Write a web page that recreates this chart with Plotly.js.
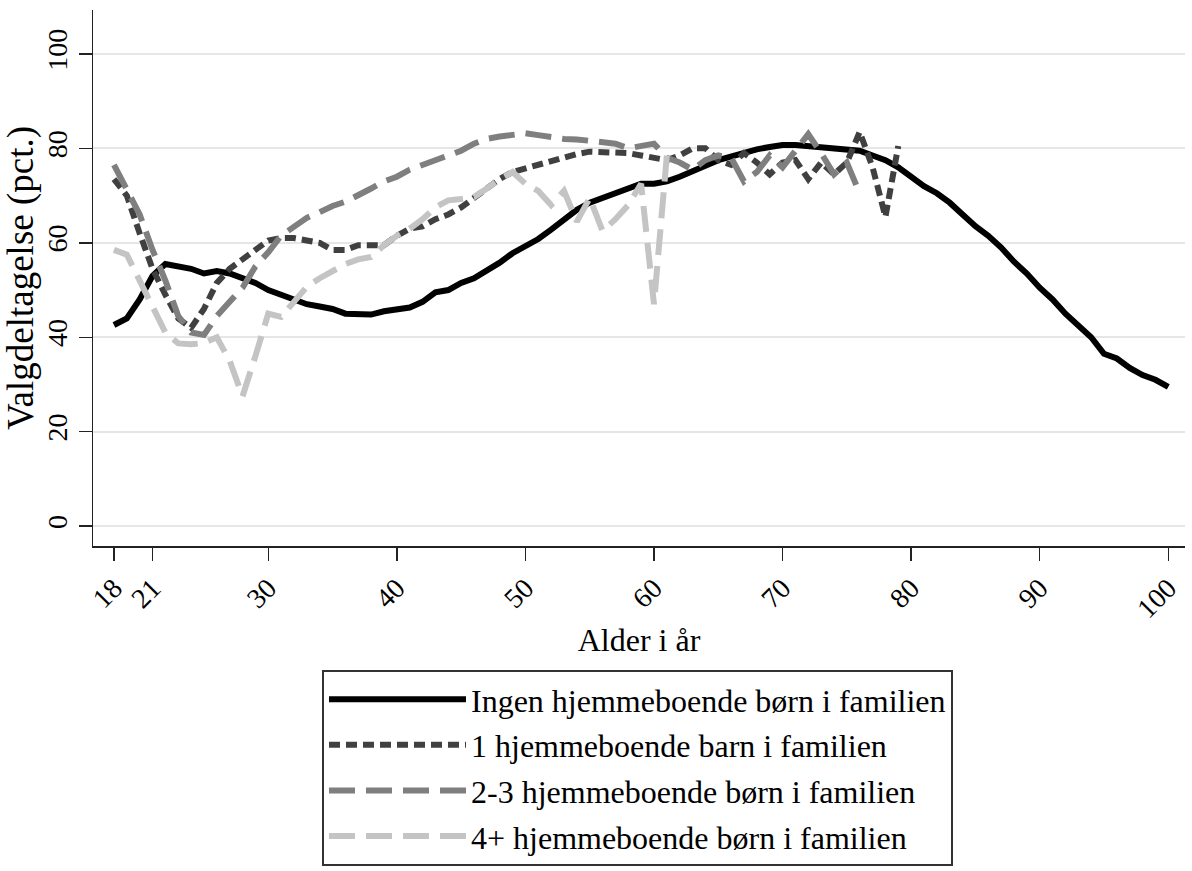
<!DOCTYPE html>
<html>
<head>
<meta charset="utf-8">
<script src="https://cdn.plot.ly/plotly-3.0.1.min.js"></script>
<style>html,body{margin:0;padding:0;background:#fff;}#chart{width:1192px;height:871px;}</style>
</head>
<body>
<div id="chart"></div>
<script>
// Age (years)
const agesAll = [];
for (let a = 18; a <= 100; a++) agesAll.push(a);

const names = [
  "Ingen hjemmeboende børn i familien",
  "1 hjemmeboende barn i familien",
  "2-3 hjemmeboende børn i familien",
  "4+ hjemmeboende børn i familien"
];

// Ingen: ages 18..100
const ingen = [42.6,44,48,53,55.5,55,54.5,53.5,54,53.5,52.5,51.5,50,49,48,47,46.5,46,45,44.8,44.8,45.5,45.8,46.3,47.5,49.5,50,51.5,52.5,54,55.8,57.8,59.2,60.8,62.8,65,67,68.5,69.5,70.5,71.5,72.5,72.5,73,74,75,76.3,77.5,78.3,79,79.8,80.3,80.7,80.7,80.5,80.3,80,79.8,79.5,78.5,77.5,76,74,72,70.5,68.5,66,63.5,61.5,59,56,53.5,50.5,48,45,42.5,40,36.5,35.5,33.5,32,31,29.5];

// 1 barn: ages 18..79
const barn1 = [73.5,70,62,54.5,49,44,42,46,51.5,54.5,56.5,58.5,60.5,61,61,60.5,60,58.5,58.5,59.5,59.5,59.5,61.5,63,63.5,65,66,67.5,69.5,71.5,73.5,75,75.8,76.5,77.3,78,78.8,79.3,79.3,79.3,79,78.5,78,77.5,78.5,80,80,77.5,76.5,79,77,74.5,77,77.5,73.5,77,74.5,77,83.5,76,65.5,80.5];

// 2-3 born: ages 18..76
const born23 = [76.5,71.5,66,58.5,52,44.5,41,40.5,44.5,47.5,50.5,55,58,61.5,63.5,65.3,66.5,67.8,68.7,70,71.5,73,74,75.5,76.5,77.5,78.5,79.5,81,82,82.5,82.8,83.2,82.8,82.3,82,81.9,81.7,81.3,81,80,80.5,81,78,77,75.5,77.5,78.5,78,73,75,78.5,76,79.5,83,79,74.5,77,70.5];

// 4+ born: ages 18..61
const born4 = [58.5,57.5,52,46.5,41,38.7,38.5,38.8,40,35,27.5,36,45,44.3,47.5,50.7,52.5,54,55.5,56.5,57,59.5,61.5,63,65,67.5,69,69.3,69.7,71.5,73.5,75,72.5,71,68,71,64.5,69.5,62.5,65,68,72.5,47,78.5];

const xTicks = [18,21,30,40,50,60,70,80,90,100];
const yTicks = [0,20,40,60,80,100];

function ages(n){ return agesAll.slice(0, n); }

const serif = "Liberation Serif, Times New Roman, serif";

const traces = [
  {x: ages(ingen.length), y: ingen, name: names[0], legendgroup:"a",
   line:{color:"#000000", width:6, dash:"solid"}},
  {x: ages(barn1.length), y: barn1, name: names[1], legendgroup:"b",
   line:{color:"#404040", width:6, dash:"11px,6px"}},
  {x: ages(born23.length), y: born23, name: names[2], legendgroup:"c",
   line:{color:"#7f7f7f", width:6, dash:"26px,11px"}},
  {x: ages(born4.length), y: born4, name: names[3], legendgroup:"d",
   line:{color:"#c4c4c4", width:6, dash:"26px,11px"}}
].map(t => Object.assign({type:"scatter", mode:"lines", hoverinfo:"x+y"}, t));

const layout = {
  width:1192, height:871,
  margin:{l:93, r:7, t:10, b:325},
  paper_bgcolor:"#ffffff", plot_bgcolor:"#ffffff",
  font:{family:serif, color:"#000", size:28},
  showlegend:true,
  legend:{
    xref:"paper", yref:"container",
    x:0.2097, y:0.2308, xanchor:"left", yanchor:"top",
    orientation:"v", bgcolor:"#ffffff", bordercolor:"#333333", borderwidth:2,
    itemwidth:137, tracegroupgap:1,
    font:{family:serif, size:32, color:"#000"}
  },
  xaxis:{
    range:[16.37,101.3], tickmode:"array", tickvals:xTicks, ticktext:xTicks.map(String),
    tickangle:-45, ticks:"outside", ticklen:13, tickwidth:1.5, tickcolor:"#222",
    showline:true, linecolor:"#222", linewidth:1.5, showgrid:false, zeroline:false,
    tickfont:{family:serif, size:28},
    title:{text:"Alder i år", font:{family:serif, size:32}, standoff:5},
    automargin:false
  },
  yaxis:{
    range:[-4.2,109.3], tickmode:"array", tickvals:yTicks, ticktext:yTicks.map(String),
    tickangle:-90, ticks:"outside", ticklen:13, tickwidth:1.5, tickcolor:"#222",
    showline:true, linecolor:"#222", linewidth:1.5,
    showgrid:true, gridcolor:"#e6e6e6", gridwidth:2, zeroline:false,
    tickfont:{family:serif, size:28},
    title:{text:"Valgdeltagelse (pct.)", font:{family:serif, size:37}, standoff:0},
    automargin:false
  }
};

Plotly.newPlot("chart", traces, layout, {displayModeBar:false, staticPlot:true});
</script>
</body>
</html>
